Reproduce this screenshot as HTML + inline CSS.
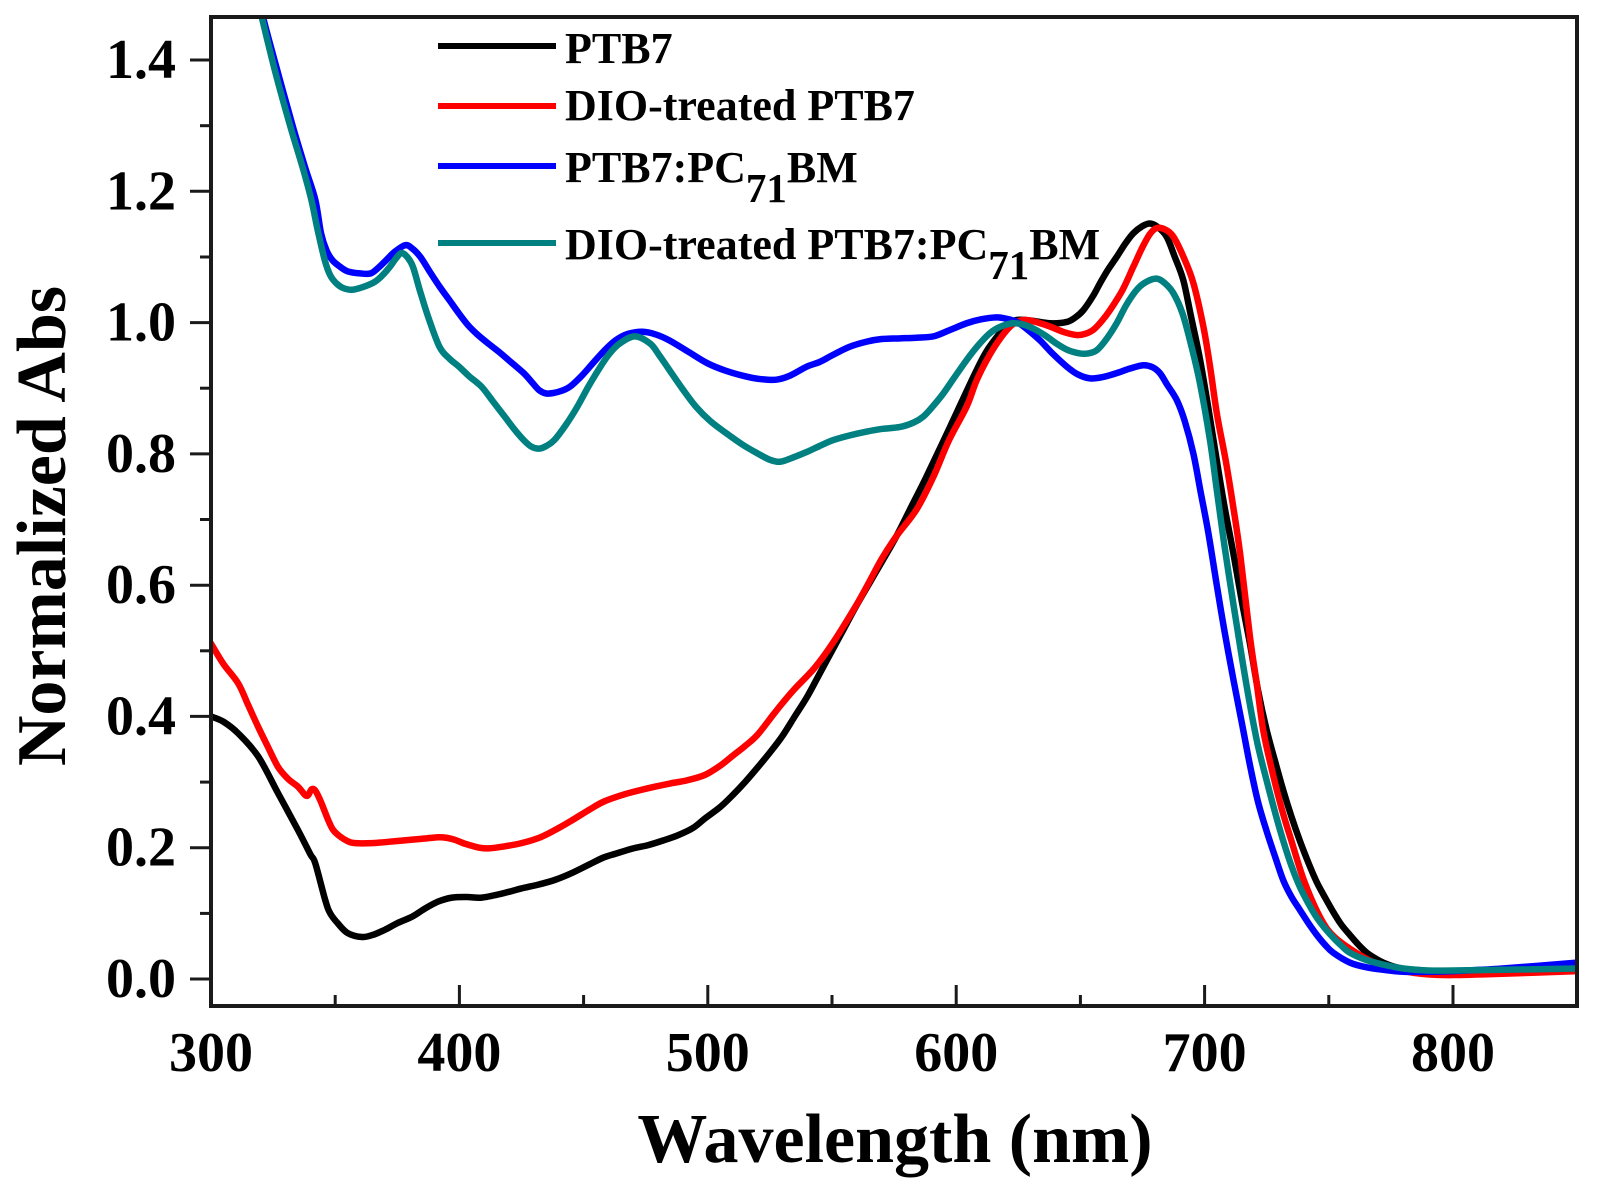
<!DOCTYPE html>
<html>
<head>
<meta charset="utf-8">
<style>
  html, body { margin:0; padding:0; background:#fff; }
  svg { display:block; }
  .tl { font-family:"Liberation Serif", serif; font-weight:bold; font-size:56px; fill:#000; }
  .ttl { font-family:"Liberation Serif", serif; font-weight:bold; font-size:70px; fill:#000; }
  .lg { font-family:"Liberation Serif", serif; font-weight:bold; font-size:44px; fill:#000; }
  .sub { font-size:41px; }
</style>
</head>
<body>
<svg id="chart" width="1599" height="1194" viewBox="0 0 1599 1194" xmlns="http://www.w3.org/2000/svg">
  <rect x="0" y="0" width="1599" height="1194" fill="#fff"/>
  <defs>
    <clipPath id="pa">
      <rect x="211" y="17" width="1366" height="989"/>
    </clipPath>
  </defs>

  <!-- curves -->
  <g clip-path="url(#pa)">
    <g id="curves" transform="matrix(2.484 0 0 -656.4 -534.2 979)" fill="none" stroke-linejoin="round" stroke-linecap="round">
      <!-- PTB7 black -->
      <polyline vector-effect="non-scaling-stroke" stroke="#000" stroke-width="6.5" points="
        300,0.400 305,0.392 311,0.374 319,0.339 327,0.283 335,0.227 340,0.19 342,0.176 346,0.120 348,0.100 351,0.085 355,0.070 360.7,0.064 365,0.067 370,0.075 375,0.085 381,0.095 386,0.107 391.5,0.118 397,0.124 403,0.125 409,0.124 417,0.130 425,0.138 432,0.144 438.5,0.151 445,0.161 452,0.174 458,0.185 463,0.191 470,0.199 476,0.204 482,0.211 488,0.219 494,0.230 499,0.245 505,0.262 510,0.28 515,0.30 520,0.322 525,0.345 530,0.37 535,0.40 540,0.43 545,0.465 550,0.50 555,0.535 560,0.57 570,0.635 576,0.675 582,0.72 588,0.765 597.5,0.841 607,0.918 612,0.955 617.6,0.984 621,0.997 624.4,1.004 630,1.003 637.8,0.999 644.5,1.001 648,1.008 651.2,1.019 655,1.04 657.9,1.06 661,1.08 664.6,1.10 668,1.12 671.3,1.136 675,1.147 678,1.151 681,1.146 684.7,1.131 688,1.10 691.4,1.065 694.5,1.01 698.1,0.945 701.5,0.87 704.9,0.79 708,0.72 711.6,0.648 715,0.575 718.3,0.510 721.5,0.44 725,0.379 728.5,0.33 731.7,0.287 735,0.247 738.4,0.210 741.8,0.177 745.1,0.148 748.5,0.124 751.8,0.102 755,0.083 758.5,0.067 762,0.052 765.3,0.040 768.5,0.032 771.9,0.025 777,0.018 782.7,0.014 790,0.011 800,0.010 820,0.011 850,0.013"/>
      <!-- DIO-treated PTB7 red -->
      <polyline vector-effect="non-scaling-stroke" stroke="#ff0000" stroke-width="6.5" points="
        300,0.511 305,0.48 311,0.450 315,0.417 319,0.384 323,0.353 327,0.323 331,0.305 335,0.293 338.5,0.279 340.5,0.289 342,0.287 343.9,0.273 345.5,0.258 347.2,0.242 349,0.228 351.3,0.219 355,0.210 358,0.207 365,0.207 371.4,0.209 380,0.212 386,0.214 391.5,0.216 395,0.215 398.2,0.212 401.5,0.207 405,0.203 408,0.200 411.6,0.199 418,0.202 425,0.207 432,0.215 438.5,0.227 445,0.241 451.9,0.257 458,0.270 465.3,0.280 472,0.287 478.7,0.293 485,0.298 492,0.303 498.9,0.311 505,0.325 510,0.34 515,0.355 520,0.372 526.6,0.404 530,0.42 535,0.442 543,0.474 550,0.51 559.4,0.567 565,0.605 570,0.64 576,0.675 584,0.715 590.8,0.765 597,0.82 604.2,0.872 608,0.91 612.3,0.943 617,0.972 621.7,0.994 625,1.002 628.4,1.004 633,1.0 637.8,0.994 643,0.986 648.5,0.981 652,0.983 655.2,0.989 658.5,1.002 661.9,1.019 667,1.05 671.3,1.085 675,1.115 678,1.135 680.7,1.144 684,1.142 687.4,1.131 691.5,1.10 695.5,1.06 699.5,0.994 702.2,0.933 705,0.86 708.5,0.79 711.5,0.72 714.3,0.648 718.3,0.52 721,0.45 723.6,0.379 727,0.32 731,0.26 735,0.21 740,0.15 746.5,0.094 752,0.065 761,0.04 770,0.022 780,0.012 790,0.007 800,0.006 820,0.008 850,0.012"/>
      <!-- PTB7:PC71BM blue -->
      <polyline vector-effect="non-scaling-stroke" stroke="#0000ff" stroke-width="6.5" points="
        316,1.56 318,1.52 320.9,1.466 327,1.38 333,1.298 338,1.235 342,1.187 344.3,1.136 346.5,1.11 348.9,1.095 352,1.085 355.1,1.078 360,1.075 364.3,1.075 367.5,1.084 370.5,1.095 374,1.108 378.2,1.118 381,1.113 384.3,1.100 388,1.078 392,1.055 396,1.034 399.8,1.014 403.5,0.996 407.5,0.981 412,0.967 416.7,0.953 421,0.939 425.9,0.923 429,0.910 432.1,0.897 435,0.892 438.2,0.893 441,0.896 444.4,0.902 449,0.918 453.7,0.938 458,0.956 462.9,0.973 468,0.983 473.7,0.986 479,0.982 484.5,0.973 492,0.956 499.9,0.938 507,0.927 515.3,0.918 521,0.914 527.6,0.913 533,0.919 539.9,0.933 545,0.94 550.5,0.951 557,0.963 564,0.971 570,0.975 577.4,0.976 584,0.977 590.8,0.979 597,0.988 604.2,0.999 610,1.005 616.3,1.008 620,1.006 624.4,1.001 628.5,0.99 633.7,0.973 639,0.952 644.5,0.933 649,0.921 653.9,0.915 659,0.917 664.6,0.923 670,0.93 675.3,0.935 679,0.932 682,0.923 685,0.905 688.8,0.882 692,0.85 695.5,0.80 698.5,0.74 701.5,0.68 704.9,0.60 708,0.53 711.6,0.456 715,0.39 718.3,0.325 721.5,0.27 725,0.225 728.5,0.185 731.7,0.15 735,0.125 738.4,0.105 741.8,0.085 745,0.068 748.5,0.052 751.8,0.040 758.5,0.025 765,0.018 772,0.014 780,0.011 790,0.011 800,0.012 820,0.016 850,0.025"/>
      <!-- DIO-treated PTB7:PC71BM teal -->
      <polyline vector-effect="non-scaling-stroke" stroke="#008080" stroke-width="6.5" points="
        315,1.56 317,1.52 320.4,1.466 326,1.38 332,1.298 337,1.235 340.4,1.187 343,1.14 345.8,1.095 348,1.072 350.4,1.06 353,1.053 356.6,1.05 361,1.054 365.9,1.062 369,1.072 372,1.085 374.5,1.098 376.7,1.106 379,1.1 381.3,1.085 384,1.05 387.4,1.009 392,0.963 396,0.945 399.8,0.933 404,0.918 409,0.902 413.5,0.88 418.2,0.857 422,0.838 425.9,0.821 429,0.811 432.1,0.808 435,0.812 438.2,0.821 443,0.845 447.5,0.872 452,0.903 456.8,0.933 460.5,0.953 464.5,0.968 470.6,0.979 476.8,0.968 480.5,0.95 484.5,0.928 490,0.898 495.2,0.872 501,0.85 507.6,0.831 514,0.814 519.9,0.801 525,0.791 529.2,0.788 534,0.794 539.9,0.803 545,0.812 550.5,0.821 557,0.828 564,0.834 570,0.838 577.4,0.841 583,0.848 586.8,0.857 590.5,0.872 594.8,0.892 599,0.915 604.2,0.943 609,0.966 613.6,0.984 618,0.994 623,0.999 627,0.997 631,0.991 636,0.98 640.4,0.968 645,0.958 649.8,0.953 653,0.953 656.6,0.958 660.5,0.975 664.6,0.999 668.5,1.027 672.7,1.05 676.5,1.062 680.7,1.067 684,1.06 687.4,1.045 691,1.015 694.1,0.973 698,0.91 702.2,0.82 704.9,0.745 708,0.66 711.6,0.571 715,0.49 718.3,0.417 721.5,0.355 725,0.302 728.5,0.252 731.7,0.21 735,0.172 738.4,0.14 741.8,0.115 745.1,0.094 748.5,0.077 751.8,0.063 755,0.051 758.5,0.040 765,0.029 771.9,0.022 780,0.016 790,0.013 800,0.013 820,0.014 850,0.016"/>
    </g>
  </g>

  <!-- axes frame -->
  <rect x="211" y="17" width="1366" height="989" fill="none" stroke="#1a1a1a" stroke-width="4"/>

  <!-- Y ticks -->
  <g stroke="#1a1a1a" stroke-width="3">
    <line x1="190" y1="979" x2="211" y2="979"/>
    <line x1="200" y1="913.4" x2="211" y2="913.4"/>
    <line x1="190" y1="847.7" x2="211" y2="847.7"/>
    <line x1="200" y1="782.1" x2="211" y2="782.1"/>
    <line x1="190" y1="716.4" x2="211" y2="716.4"/>
    <line x1="200" y1="650.8" x2="211" y2="650.8"/>
    <line x1="190" y1="585.2" x2="211" y2="585.2"/>
    <line x1="200" y1="519.5" x2="211" y2="519.5"/>
    <line x1="190" y1="453.9" x2="211" y2="453.9"/>
    <line x1="200" y1="388.2" x2="211" y2="388.2"/>
    <line x1="190" y1="322.6" x2="211" y2="322.6"/>
    <line x1="200" y1="257" x2="211" y2="257"/>
    <line x1="190" y1="191.3" x2="211" y2="191.3"/>
    <line x1="200" y1="125.7" x2="211" y2="125.7"/>
    <line x1="190" y1="60" x2="211" y2="60"/>
  </g>

  <!-- X ticks (inward) -->
  <g stroke="#1a1a1a" stroke-width="3">
    <line x1="335.2" y1="995" x2="335.2" y2="1006"/>
    <line x1="459.4" y1="985" x2="459.4" y2="1006"/>
    <line x1="583.6" y1="995" x2="583.6" y2="1006"/>
    <line x1="707.8" y1="985" x2="707.8" y2="1006"/>
    <line x1="832" y1="995" x2="832" y2="1006"/>
    <line x1="956.2" y1="985" x2="956.2" y2="1006"/>
    <line x1="1080.4" y1="995" x2="1080.4" y2="1006"/>
    <line x1="1204.6" y1="985" x2="1204.6" y2="1006"/>
    <line x1="1328.8" y1="995" x2="1328.8" y2="1006"/>
    <line x1="1453" y1="985" x2="1453" y2="1006"/>
  </g>

  <!-- Y tick labels -->
  <g class="tl" text-anchor="end">
    <text x="176" y="997">0.0</text>
    <text x="176" y="865.7">0.2</text>
    <text x="176" y="734.4">0.4</text>
    <text x="176" y="603.2">0.6</text>
    <text x="176" y="471.9">0.8</text>
    <text x="176" y="340.6">1.0</text>
    <text x="176" y="209.3">1.2</text>
    <text x="176" y="78">1.4</text>
  </g>

  <!-- X tick labels -->
  <g class="tl" text-anchor="middle">
    <text x="211" y="1071">300</text>
    <text x="459.4" y="1071">400</text>
    <text x="707.8" y="1071">500</text>
    <text x="956.2" y="1071">600</text>
    <text x="1204.6" y="1071">700</text>
    <text x="1453" y="1071">800</text>
  </g>

  <!-- Axis titles -->
  <text class="ttl" x="895" y="1162" text-anchor="middle">Wavelength (nm)</text>
  <text class="ttl" x="65" y="526" text-anchor="middle" transform="rotate(-90 65 526)">Normalized Abs</text>

  <!-- Legend -->
  <g stroke-width="6" stroke-linecap="butt">
    <line x1="438" y1="46" x2="556" y2="46" stroke="#000"/>
    <line x1="438" y1="106" x2="556" y2="106" stroke="#ff0000"/>
    <line x1="438" y1="166" x2="556" y2="166" stroke="#0000ff"/>
    <line x1="438" y1="243" x2="556" y2="243" stroke="#008080"/>
  </g>
  <text class="lg" x="565" y="63">PTB7</text>
  <text class="lg" x="565" y="120">DIO-treated PTB7</text>
  <text class="lg" x="565" y="182">PTB7:PC<tspan class="sub" dy="20">71</tspan><tspan dy="-20">BM</tspan></text>
  <text class="lg" x="565" y="259">DIO-treated PTB7:PC<tspan class="sub" dy="20">71</tspan><tspan dy="-20">BM</tspan></text>
</svg>
<script>
(function(){
  try {
    var NS = "http://www.w3.org/2000/svg";
    var g = document.getElementById("curves");
    var pls = g.querySelectorAll("polyline");
    for (var k = 0; k < pls.length; k++) {
      var pl = pls[k];
      var raw = pl.getAttribute("points").trim().split(/\s+/);
      var P = [];
      for (var i = 0; i < raw.length; i++) {
        var xy = raw[i].split(",");
        if (xy.length === 2) P.push([parseFloat(xy[0]), parseFloat(xy[1])]);
      }
      if (P.length < 3) continue;
      var d = "M" + P[0][0] + "," + P[0][1];
      for (var j = 0; j < P.length - 1; j++) {
        var p0 = P[j > 0 ? j - 1 : 0], p1 = P[j], p2 = P[j + 1], p3 = P[j + 2 < P.length ? j + 2 : P.length - 1];
        var t = 1/6;
        var c1x = p1[0] + (p2[0] - p0[0]) * t, c1y = p1[1] + (p2[1] - p0[1]) * t;
        var c2x = p2[0] - (p3[0] - p1[0]) * t, c2y = p2[1] - (p3[1] - p1[1]) * t;
        d += " C" + c1x + "," + c1y + " " + c2x + "," + c2y + " " + p2[0] + "," + p2[1];
      }
      var path = document.createElementNS(NS, "path");
      path.setAttribute("d", d);
      path.setAttribute("fill", "none");
      path.setAttribute("stroke", pl.getAttribute("stroke"));
      path.setAttribute("stroke-width", pl.getAttribute("stroke-width"));
      path.setAttribute("vector-effect", "non-scaling-stroke");
      path.setAttribute("stroke-linejoin", "round");
      path.setAttribute("stroke-linecap", "round");
      g.replaceChild(path, pl);
    }
  } catch (e) {}
})();
</script>
</body>
</html>
